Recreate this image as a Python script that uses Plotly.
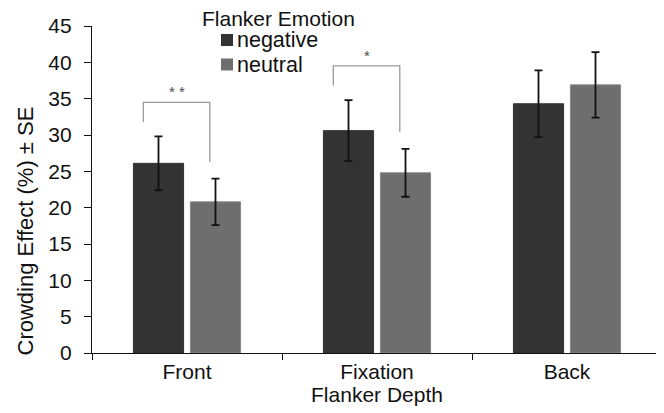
import plotly.graph_objects as go

categories = ["Front", "Fixation", "Back"]
negative = [26.1, 30.6, 34.3]
negative_se = [3.7, 4.2, 4.6]
neutral = [20.8, 24.8, 36.9]
neutral_se = [3.2, 3.3, 4.5]
series_names = ["negative", "neutral"]
series_colors = ["#333333", "#6e6e6e"]
legend_title = "Flanker Emotion"
y_title = "Crowding Effect (%) ± SE"
x_title = "Flanker Depth"
sig_labels = ["* *", "*"]
sig_cat_index = [0, 1]

FONT = "Liberation Sans, Arial, sans-serif"

fig = go.Figure()
fig.add_trace(go.Bar(
    x=categories, y=negative, name=series_names[0], showlegend=False,
    marker=dict(color=series_colors[0], line=dict(color=series_colors[0], width=1)),
    error_y=dict(type="data", array=negative_se, color="#111111", thickness=1.8, width=4),
))
fig.add_trace(go.Bar(
    x=categories, y=neutral, name=series_names[1], showlegend=False,
    marker=dict(color=series_colors[1], line=dict(color="#8a8a8a", width=1)),
    error_y=dict(type="data", array=neutral_se, color="#111111", thickness=1.8, width=4),
))

# significance brackets
for lab, ci in zip(sig_labels, sig_cat_index):
    top_neg = negative[ci] + negative_se[ci]
    top_neu = neutral[ci] + neutral_se[ci]
    level = max(top_neg, top_neu) + 4.7
    xl, xr = ci - 0.23, ci + 0.12
    fig.add_shape(type="path",
                  path=f"M {xl},{top_neg + 2.0} L {xl},{level} L {xr},{level} L {xr},{top_neu + 2.3}",
                  xref="x", yref="y", line=dict(color="#9a9a9a", width=1.3))
    fig.add_annotation(x=(xl + xr) / 2, y=level, text=lab, showarrow=False,
                       yanchor="bottom", yshift=0, font=dict(size=15, color="#4a4a4a", family=FONT))

# legend and y title drawn in paper coordinates (plot area: 570 x 327 px)
PW, PH = 570.0, 327.0
fig.add_annotation(xref="paper", yref="paper", x=108 / PW, y=1 + 7 / PH,
                   text=legend_title, showarrow=False, xanchor="left", yanchor="middle",
                   font=dict(size=21, family=FONT, color="#111111"))
for i, (nm, col) in enumerate(zip(series_names, series_colors)):
    cy = 1 - (14 + 24.5 * i) / PH
    fig.add_shape(type="rect", xref="paper", yref="paper",
                  x0=129 / PW, x1=141 / PW, y0=cy - 6 / PH, y1=cy + 6 / PH,
                  fillcolor=col, line=dict(width=0))
    fig.add_annotation(xref="paper", yref="paper", x=143 / PW, y=cy,
                       text=nm, showarrow=False, xanchor="left", yanchor="middle",
                       font=dict(size=21.5, family=FONT, color="#111111"))

fig.add_annotation(xref="paper", yref="paper", x=-66.5 / PW, y=122 / PH,
                   text=y_title, showarrow=False, textangle=-90,
                   xanchor="center", yanchor="middle",
                   font=dict(size=22, family=FONT, color="#111111"))

fig.update_layout(
    width=656, height=405,
    margin=dict(l=84, r=2, t=18, b=60),
    paper_bgcolor="white", plot_bgcolor="white",
    barmode="group", bargap=0.4, bargroupgap=0.12,
    font=dict(family=FONT, color="#111111"),
    showlegend=False,
    xaxis=dict(
        title=dict(text=x_title, font=dict(size=21), standoff=0),
        tickfont=dict(size=21), showline=True, linecolor="#111111", linewidth=1.2,
        ticks="outside", tickson="boundaries", ticklen=6, tickcolor="#111111",
        showgrid=False, automargin=False,
    ),
    yaxis=dict(
        range=[0, 45], dtick=5, tickfont=dict(size=21), ticklabelstandoff=8,
        showline=True, linecolor="#111111", linewidth=1.2,
        ticks="outside", ticklen=7, tickcolor="#111111",
        showgrid=False, zeroline=False, automargin=False,
    ),
)

fig.write_html("out.html")
